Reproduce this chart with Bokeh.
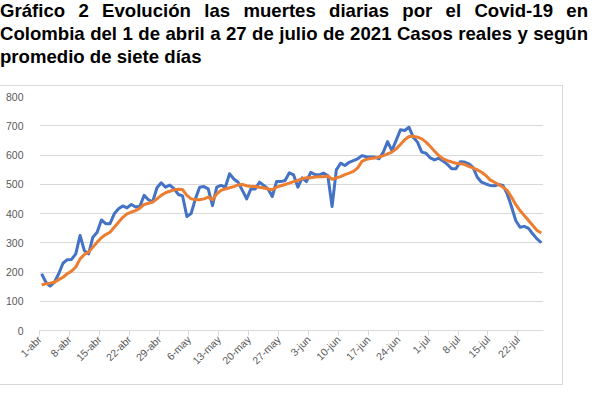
import math
from bokeh.plotting import figure
from bokeh.models import Range1d, FixedTicker, Div, Column
from bokeh.embed import file_html
from bokeh.resources import INLINE

title_text = ("Gráfico 2 Evolución las muertes diarias por el Covid-19 en Colombia del 1 de abril "
              "a 27 de julio de 2021 Casos reales y según promedio de siete días")

tick_labels = ["1-abr", "8-abr", "15-abr", "22-abr", "29-abr", "6-may", "13-may", "20-may",
               "27-may", "3-jun", "10-jun", "17-jun", "24-jun", "1-jul", "8-jul", "15-jul", "22-jul"]

muertes_diarias = [194, 165, 152, 165, 194, 230, 242, 243, 262, 325, 273, 262, 319, 336, 378, 365,
                   365, 399, 416, 426, 419, 431, 422, 425, 462, 447, 440, 488, 505, 490, 497, 485,
                   465, 460, 390, 400, 450, 490, 492, 484, 427, 490, 496, 490, 536, 518, 507, 479,
                   450, 484, 484, 507, 496, 484, 458, 509, 509, 513, 539, 532, 490, 522, 509, 541,
                   533, 532, 538, 530, 424, 549, 572, 564, 575, 581, 587, 598, 594, 593, 593, 587,
                   610, 646, 615, 650, 686, 684, 695, 661, 644, 610, 606, 590, 583, 589, 579, 568,
                   553, 553, 577, 576, 570, 558, 524, 507, 501, 496, 495, 499, 496, 467, 424, 376,
                   353, 356, 349, 330, 313, 300]

promedio_7_dias = [156, 160, 162, 165, 174, 182, 194, 203, 217, 245, 260, 268, 285, 302, 317, 328,
                   336, 353, 370, 387, 399, 405, 410, 418, 431, 435, 439, 450, 462, 471, 476, 481,
                   483, 482, 462, 450, 448, 447, 450, 456, 447, 467, 479, 484, 488, 492, 498, 499,
                   495, 492, 492, 490, 487, 484, 481, 490, 495, 499, 504, 509, 513, 519, 522, 522,
                   525, 526, 526, 528, 517, 522, 526, 533, 538, 544, 556, 578, 585, 588, 590, 593,
                   598, 604, 610, 621, 636, 652, 663, 664, 661, 655, 644, 629, 613, 598, 587, 581,
                   576, 572, 570, 568, 561, 556, 549, 541, 530, 515, 507, 499, 490, 479, 456, 431,
                   410, 393, 376, 359, 342, 333]

n_days = len(muertes_diarias)
x_days = [d + 0.5 for d in range(n_days)]
tick_pos = [7 * k for k in range(len(tick_labels))]

p = figure(width=568, height=300, x_range=Range1d(0, n_days), y_range=Range1d(0, 800),
           output_backend="svg", toolbar_location=None,
           min_border_left=43, min_border_right=21, min_border_top=10, min_border_bottom=56)
p.outline_line_color = None
p.background_fill_color = "white"
p.border_fill_color = "white"
p.styles = {"border": "1px solid #D9D9D9"}

p.line(x_days, muertes_diarias, line_color="#4472C4", line_width=3, line_join="round")
p.line(x_days, promedio_7_dias, line_color="#ED7D31", line_width=3, line_join="round")

p.xgrid.visible = False
p.ygrid.grid_line_color = "#D9D9D9"
p.ygrid.grid_line_width = 1

p.yaxis.ticker = FixedTicker(ticks=list(range(0, 801, 100)))
p.yaxis.axis_line_color = None
p.yaxis.major_tick_line_color = None
p.yaxis.minor_tick_line_color = None
p.yaxis.major_label_standoff = 10
p.yaxis.major_label_text_font = "Liberation Sans"
p.yaxis.major_label_text_font_size = "10.5px"
p.yaxis.major_label_text_color = "#595959"

p.xaxis.ticker = FixedTicker(ticks=tick_pos)
p.xaxis.major_label_overrides = {t: lab for t, lab in zip(tick_pos, tick_labels)}
p.xaxis.major_label_orientation = math.pi / 4
p.xaxis.axis_line_color = "#D9D9D9"
p.xaxis.major_tick_line_color = "#D9D9D9"
p.xaxis.major_tick_out = 5
p.xaxis.major_tick_in = 0
p.xaxis.minor_tick_line_color = None
p.xaxis.major_label_standoff = 2
p.xaxis.major_label_text_font = "Liberation Sans"
p.xaxis.major_label_text_font_size = "10.5px"
p.xaxis.major_label_text_color = "#595959"

div = Div(text=('<div style="font-family: \'Liberation Sans\', Arial, sans-serif; font-weight: bold; '
                'font-size: 18.6px; line-height: 23px; text-align: justify; width: 588px; color: #000;">'
                + title_text + '</div>'),
          width=588, height=81)

layout = Column(div, p, spacing=0, styles={"margin-left": "-5px", "margin-top": "-6px"})

open("out.html", "w").write(file_html(layout, INLINE))
